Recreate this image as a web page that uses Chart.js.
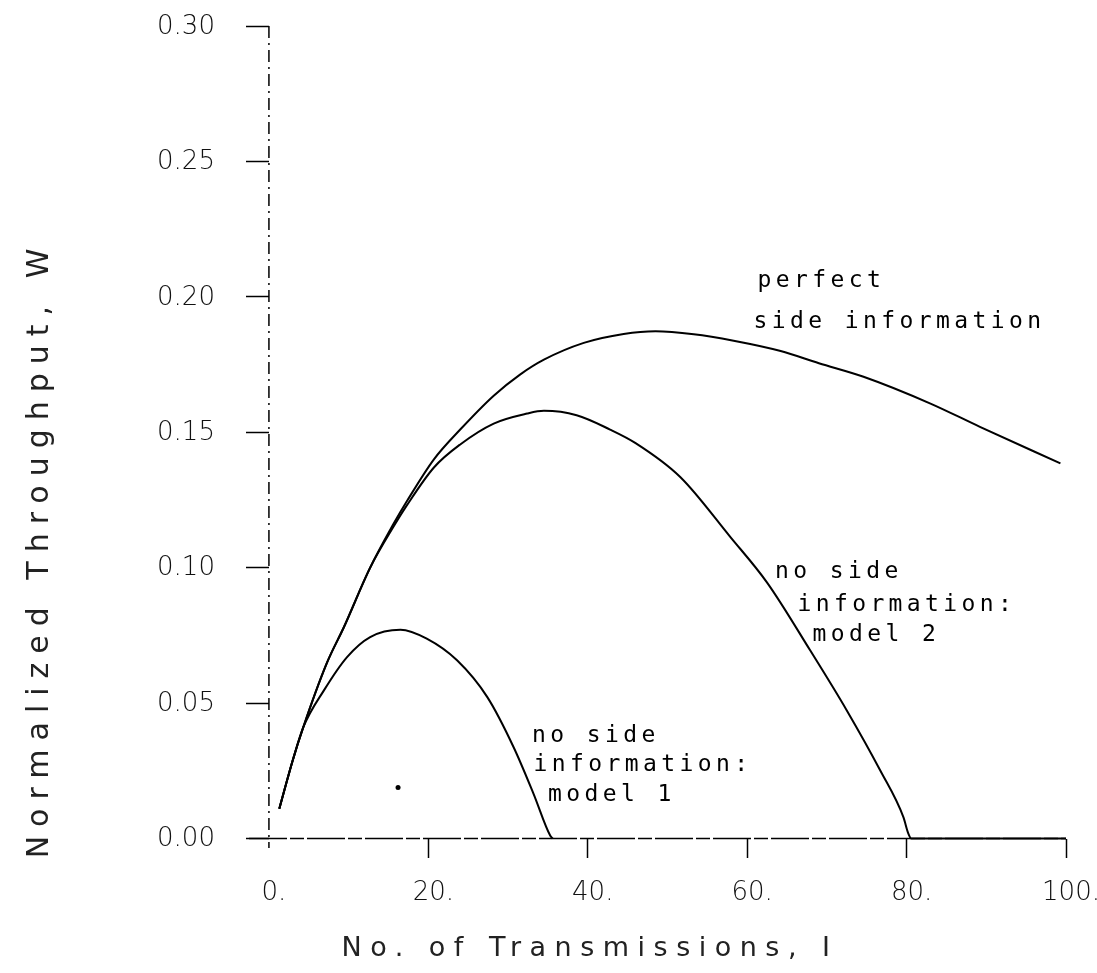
<!DOCTYPE html>
<html>
<head>
<meta charset="utf-8">
<title>Normalized Throughput</title>
<script src="https://cdn.jsdelivr.net/npm/chart.js@4.4.1/dist/chart.umd.min.js"></script>
<style>
    html, body { margin: 0; padding: 0; background: #fff; }
    #wrap { width: 1097px; height: 973px; }
</style>
</head>
<body>
<div id="wrap"><canvas id="throughput-chart" width="1097" height="973"></canvas></div>
<script>
// --- Data ---
const perfectX = [1.3, 3.0, 4.3, 7.3, 9.4, 12.7, 15.6, 17.3, 20.7, 24.0, 28.2, 31.5, 34.5, 39.5, 44.5, 48.5, 53.3, 58.3, 64.2, 69.0, 74.6, 83.0, 89.2, 99.3];
const perfectW = [0.011, 0.029, 0.041, 0.065, 0.078, 0.100, 0.116, 0.1245, 0.140, 0.151, 0.1635, 0.1713, 0.1768, 0.183, 0.1863, 0.1873, 0.1862, 0.1838, 0.180, 0.1755, 0.1705, 0.1606, 0.152, 0.1385];

const model2X = [1.3, 3.0, 4.3, 7.3, 9.4, 12.7, 15.6, 17.3, 20.7, 24.0, 28.2, 32.4, 34.5, 38.6, 42.8, 46.0, 51.6, 57.9, 62.5, 67.9, 72.5, 76.7, 79.6, 80.2, 80.6, 100];
const model2W = [0.011, 0.029, 0.041, 0.065, 0.078, 0.100, 0.115, 0.123, 0.137, 0.1455, 0.1532, 0.1569, 0.1579, 0.1563, 0.151, 0.146, 0.1335, 0.1113, 0.0945, 0.0695, 0.0473, 0.0251, 0.0079, 0.002, 0, 0];

const model1X = [1.3, 3.0, 4.3, 6.9, 9.8, 12.7, 16.5, 19.8, 23.6, 27.4, 30.7, 33.2, 35.3, 35.6];
const model1W = [0.011, 0.029, 0.041, 0.0547, 0.067, 0.0744, 0.0771, 0.0738, 0.0658, 0.0522, 0.0337, 0.0165, 0.001, 0];

// stray dot inside the plot
const dotX = [16.2];
const dotW = [0.0188];

const xTickValues = [0, 20, 40, 60, 80, 100];
const xTickLabels = ['0.', '20.', '40.', '60.', '80.', '100.'];
const yTickValues = [0, 0.05, 0.10, 0.15, 0.20, 0.25, 0.30];
const yTickLabels = ['0.00', '0.05', '0.10', '0.15', '0.20', '0.25', '0.30'];

// curve captions, one entry per text line (anchored in data units)
const captionLines = [
    { text: 'perfect', x: 61.3, y: 0.2036 },
    { text: 'side information', x: 60.8, y: 0.1885 },
    { text: 'no side', x: 63.5, y: 0.0961 },
    { text: 'information:', x: 66.3, y: 0.0839 },
    { text: 'model 2', x: 68.2, y: 0.0728 },
    { text: 'no side', x: 33.0, y: 0.0358 },
    { text: 'information:', x: 33.2, y: 0.0248 },
    { text: 'model 1', x: 35.0, y: 0.0137 }
];

const xTitle = 'No. of Transmissions, I';
const yTitle = 'Normalized Throughput, W';

// --- Helpers ---
const toPoints = (xs, ys) => xs.map((x, i) => ({ x: x, y: ys[i] }));

const curveStyle = {
    borderColor: '#000',
    borderWidth: 2,
    pointRadius: 0,
    fill: false,
    cubicInterpolationMode: 'monotone'
};

const tickFont = '200 26px "DejaVu Sans"';

// both axis lines are broken (plotter style), drawn with a dash pattern
const axisLinesPlugin = {
    id: 'axisLines',
    beforeDatasetsDraw(chart) {
        const ctx = chart.ctx;
        const area = chart.chartArea;
        const x0 = chart.scales.x.getPixelForValue(0);
        const y0 = chart.scales.y.getPixelForValue(0);

        ctx.save();
        ctx.strokeStyle = '#000';
        ctx.lineWidth = 1.5;

        ctx.setLineDash([12, 5, 2, 5]);
        ctx.beginPath();
        ctx.moveTo(x0, area.top);
        ctx.lineTo(x0, area.bottom);
        ctx.stroke();

        ctx.setLineDash([38, 3, 14, 3]);
        ctx.beginPath();
        ctx.moveTo(area.left, y0);
        ctx.lineTo(area.right, y0);
        ctx.stroke();
        ctx.restore();
    }
};

// y tick labels sit left of the tick marks of an axis placed at x = 0,
// captions and titles need letter spacing, so all of them are drawn here
const textPlugin = {
    id: 'plotText',
    afterDraw(chart) {
        const ctx = chart.ctx;
        const xs = chart.scales.x;
        const ys = chart.scales.y;
        const tickLen = ys.options.grid.tickLength;

        ctx.save();
        ctx.fillStyle = '#111';
        ctx.font = tickFont;
        ctx.textAlign = 'right';
        ctx.textBaseline = 'middle';
        yTickValues.forEach((v, i) => {
            ctx.fillText(yTickLabels[i], xs.getPixelForValue(0) - tickLen - 31, ys.getPixelForValue(v) + 1);
        });
        ctx.restore();

        ctx.save();
        ctx.fillStyle = '#000';
        ctx.font = '23px "DejaVu Sans Mono"';
        ctx.letterSpacing = '4.4px';
        ctx.textAlign = 'left';
        ctx.textBaseline = 'alphabetic';
        captionLines.forEach(line => {
            ctx.fillText(line.text, xs.getPixelForValue(line.x), ys.getPixelForValue(line.y));
        });
        ctx.restore();

        ctx.save();
        ctx.fillStyle = '#222';
        ctx.font = '27px "DejaVu Sans"';
        ctx.letterSpacing = '8.5px';
        ctx.textAlign = 'center';
        ctx.textBaseline = 'alphabetic';
        ctx.fillText(xTitle, 590, 956);
        ctx.restore();

        ctx.save();
        ctx.fillStyle = '#222';
        ctx.font = '30px "DejaVu Sans"';
        ctx.letterSpacing = '9px';
        ctx.translate(48, 549);
        ctx.rotate(-Math.PI / 2);
        ctx.textAlign = 'center';
        ctx.textBaseline = 'alphabetic';
        ctx.fillText(yTitle, 0, 0);
        ctx.restore();
    }
};

// --- Chart ---
const chartCanvas = document.getElementById('throughput-chart');

new Chart(chartCanvas, {
    type: 'line',
    data: {
        datasets: [
            { label: 'perfect side information', data: toPoints(perfectX, perfectW), ...curveStyle },
            { label: 'no side information: model 2', data: toPoints(model2X, model2W), ...curveStyle },
            { label: 'no side information: model 1', data: toPoints(model1X, model1W), ...curveStyle },
            {
                label: 'dot', data: toPoints(dotX, dotW), showLine: false,
                pointRadius: 2.5, pointBackgroundColor: '#000', pointBorderWidth: 0
            }
        ]
    },
    options: {
        responsive: false,
        animation: false,
        events: [],
        layout: { padding: { left: 249, right: 31, top: 26, bottom: 125 } },
        plugins: {
            legend: { display: false },
            tooltip: { enabled: false }
        },
        scales: {
            x: {
                type: 'linear',
                min: -2.5,
                max: 100,
                position: { y: 0 },
                afterBuildTicks: (scale) => { scale.ticks = xTickValues.map(v => ({ value: v })); },
                afterFit: (scale) => { scale.paddingLeft = 0; scale.paddingRight = 0; },
                grid: {
                    drawOnChartArea: false, drawTicks: true, tickLength: 19, tickWidth: 1.5,
                    tickColor: (ctx) => (ctx.tick && ctx.tick.value === 0 ? 'rgba(0,0,0,0)' : '#000')
                },
                border: { display: false },
                ticks: {
                    color: '#111',
                    font: { family: 'DejaVu Sans', size: 26, weight: '200' },
                    padding: 20,
                    labelOffset: 5,
                    maxRotation: 0,
                    autoSkip: false,
                    callback: (value, index) => xTickLabels[index]
                }
            },
            y: {
                type: 'linear',
                min: -0.0035,
                max: 0.30,
                position: { x: 0 },
                afterBuildTicks: (scale) => { scale.ticks = yTickValues.map(v => ({ value: v })); },
                afterFit: (scale) => { scale.paddingTop = 0; scale.paddingBottom = 0; },
                grid: { drawOnChartArea: false, drawTicks: true, tickLength: 23, tickColor: '#000', tickWidth: 1.5 },
                border: { display: false },
                ticks: { display: false }
            }
        }
    },
    plugins: [axisLinesPlugin, textPlugin]
});
</script>
</body>
</html>
